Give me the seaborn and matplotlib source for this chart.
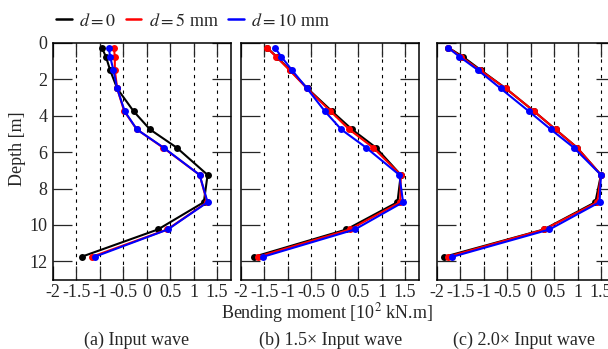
import numpy as np
import pandas as pd
import seaborn as sns
import matplotlib.pyplot as plt
from matplotlib.lines import Line2D

sns.set_style('ticks')
plt.rcParams['font.family'] = ['Liberation Serif', 'DejaVu Serif']
plt.rcParams['mathtext.fontset'] = 'stix'
plt.rcParams['axes.unicode_minus'] = False

# depth of the measuring points [m]
depth = [0.25, 0.75, 1.5, 2.5, 3.75, 4.75, 5.75, 7.25, 8.75, 10.25, 11.75]

# bending moment [10^2 kN.m]
# (a) input wave
a_d0 = [-0.96, -0.87, -0.78, -0.63, -0.28, 0.07, 0.64, 1.30, 1.22, 0.24, -1.39]
a_d5 = [-0.70, -0.68, -0.68, -0.63, -0.48, -0.21, 0.35, 1.13, 1.29, 0.44, -1.17]
a_d10 = [-0.81, -0.78, -0.71, -0.63, -0.47, -0.21, 0.36, 1.13, 1.30, 0.45, -1.11]
# (b) 1.5x input wave
b_d0 = [-1.45, -1.24, -0.95, -0.58, -0.06, 0.37, 0.88, 1.41, 1.34, 0.25, -1.72]
b_d5 = [-1.45, -1.25, -0.96, -0.59, -0.09, 0.31, 0.82, 1.41, 1.40, 0.32, -1.64]
b_d10 = [-1.28, -1.14, -0.91, -0.59, -0.21, 0.14, 0.67, 1.38, 1.46, 0.43, -1.53]
# (c) 2.0x input wave
c_d0 = [-1.76, -1.45, -1.06, -0.53, 0.07, 0.53, 0.99, 1.50, 1.38, 0.28, -1.84]
c_d5 = [-1.76, -1.49, -1.08, -0.53, 0.07, 0.53, 0.99, 1.50, 1.42, 0.29, -1.77]
c_d10 = [-1.77, -1.52, -1.12, -0.64, -0.04, 0.43, 0.92, 1.50, 1.47, 0.40, -1.67]

cases = ['$d=0$', '$d=5$ mm', '$d=10$ mm']
colors = ['black', 'red', 'blue']
captions = ['(a) Input wave', '(b) 1.5\u00d7 Input wave', '(c) 2.0\u00d7 Input wave']
xticks = [-2, -1.5, -1, -0.5, 0, 0.5, 1, 1.5]
xticklabels = ['-2', '-1.5', '-1', '-0.5', '0', '0.5', '1', '1.5']
yticks = [0, 2, 4, 6, 8, 10, 12]

panels = [[a_d0, a_d5, a_d10], [b_d0, b_d5, b_d10], [c_d0, c_d5, c_d10]]

fs = 13
fig = plt.figure(figsize=(6.08, 3.49), dpi=100)
lefts = [53 / 608, 241 / 608, 437 / 608]
caption_x = [137 / 608, 331 / 608, 524 / 608]

for i, series in enumerate(panels):
    ax = fig.add_axes([lefts[i], 0.1991, 178 / 608, 0.6777])
    rows = []
    for name, vals in zip(cases, series):
        for dp, v in zip(depth, vals):
            rows.append({'moment': v, 'depth': dp, 'case': name})
    df = pd.DataFrame(rows)

    for x in xticks[1:]:
        ax.axvline(x, color='black', lw=0.8, ls=(0, (3, 4)), zorder=0)

    sns.lineplot(data=df, x='moment', y='depth', hue='case', hue_order=cases,
                 palette=colors, marker='o', markersize=5, markeredgewidth=0,
                 lw=1.5, sort=False, estimator=None, legend=False, ax=ax)

    ax.set_xlim(-2, 1.8)
    ax.set_ylim(13, 0)
    ax.set_xticks(xticks)
    ax.set_xticklabels(xticklabels)
    ax.set_yticks(yticks)
    if i > 0:
        ax.set_yticklabels([])
    ax.tick_params(axis='x', direction='in', length=10, width=0.9, top=True,
                   labelsize=fs, pad=3)
    ax.tick_params(axis='y', direction='in', length=14, width=0.9, right=True,
                   labelsize=fs, pad=4)
    ax.set_xlabel('')
    ax.set_ylabel('')
    for sp in ax.spines.values():
        sp.set_visible(True)
        sp.set_linewidth(1.1)
        sp.set_color('black')
    fig.text(caption_x[i], 1 - 340 / 349, captions[i], ha='center', va='center', fontsize=fs)

fig.text(327 / 608, 1 - 313 / 349, 'Bending moment [10$^2$ kN.m]', ha='center', va='center', fontsize=fs)
fig.text(18 / 608, 1 - 149 / 349, 'Depth [m]', rotation=90, ha='center', va='center', fontsize=fs)

handles = [Line2D([], [], color=c, lw=1.8) for c in colors]
fig.legend(handles, cases, loc='center', bbox_to_anchor=(193 / 608, 1 - 21 / 349),
           ncol=3, frameon=False, fontsize=fs, handlelength=0.85,
           handletextpad=0.4, columnspacing=0.55, borderpad=0, borderaxespad=0)

fig.savefig('out.png', dpi=100)
